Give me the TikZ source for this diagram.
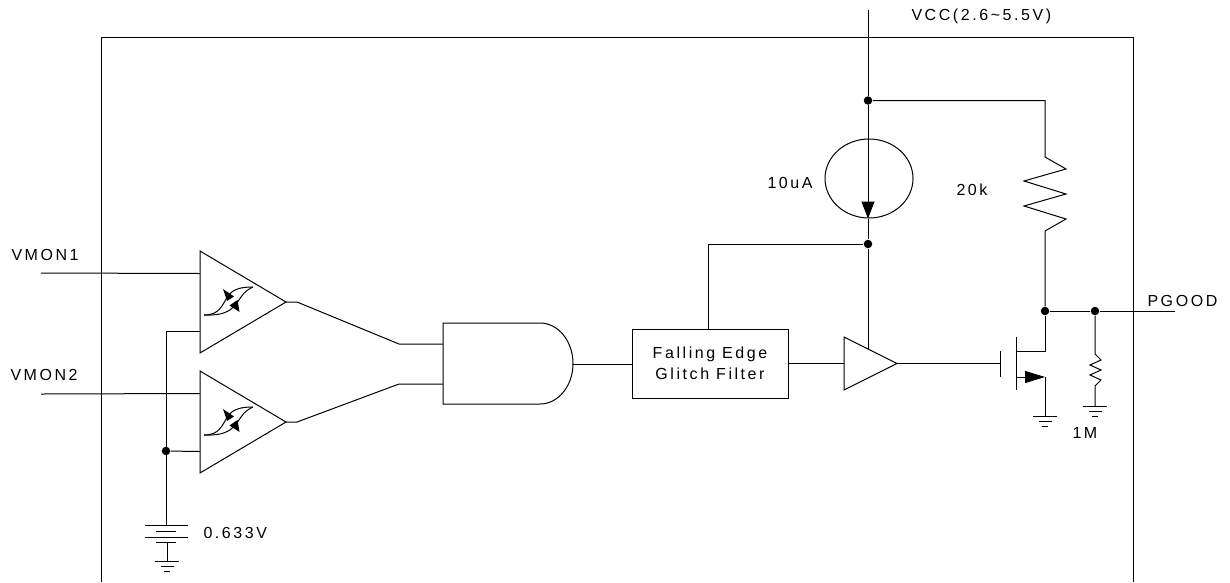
\documentclass[tikz,border=0pt]{standalone}
\usepackage{fontspec}
\setmainfont[LetterSpace=16]{Liberation Sans}
\usetikzlibrary{arrows.meta,shapes.geometric,positioning}
\tikzset{
  wire/.style = {line width=1pt},
  dot/.style = {circle, fill, inner sep=0pt, minimum size=8.5pt},
  lbl/.style = {anchor=west, inner sep=0pt, font=\fontsize{16}{21}\selectfont},
  comparator/.pic = {
    \draw[wire] (0,-51) -- (86,0) -- (0,51) -- cycle;
    \coordinate (-inp) at (0,-28.5);
    \coordinate (-ref) at (0,29.5);
    \coordinate (-out) at (86,0);
    \draw[wire] (4,13) .. controls (20,13) and (22,3) .. (28,-6) .. controls (33,-13) and (41,-15) .. (53,-15);
    \draw[wire] (4,13) .. controls (30,14) and (34,5) .. (41,-5) .. controls (45,-11) and (49,-13) .. (53,-15);
    \fill (23,-13) -- (34,-5.5) -- (27,-1) -- cycle;
    \fill (29.5,3.5) -- (37.5,-2) -- (39.5,10) -- cycle;
  },
  gndsym/.pic = {
    \draw[wire] (-12,0) -- (12,0);
    \draw[wire] (-6.5,5) -- (6.5,5);
    \draw[wire] (-3,10) -- (3,10);
  },
  cellsym/.pic = {
    \draw[wire] (-21.5,0) -- (21.5,0);
    \draw[wire] (-10,6) -- (10,6);
    \draw[wire] (-21.5,12) -- (21.5,12);
    \draw[wire] (-10,17) -- (10,17);
    \coordinate (-bot) at (0,17);
  }
}

\begin{document}
\begin{tikzpicture}[x=1pt, y=-1pt, on grid, wire]
\useasboundingbox (0,0) rectangle (1230,582);
\draw (101,582) -- (101,37) -- (1133,37) -- (1133,582);

\coordinate (vcctop) at (868,10);
\node[dot] (j1) at (868,100.5) {};
\node[dot, below=143.5pt of j1] (j2) {};
\node[dot] (j3) at (1045,311) {};
\node[dot, right=50pt of j3] (j4) {};
\node[dot] (j5) at (166,451) {};
\node[draw, ellipse, inner sep=0pt, minimum width=88pt, minimum height=79pt] (isrc) at (869,178.5) {};

\pic (cmp1) at (200,302) {comparator};
\pic (cmp2) at (200,422) {comparator};

\coordinate (vmon1) at (41,273);
\coordinate (vmon2) at (41,394);
\coordinate (batt) at (166,525);
\pic (cell) at (batt) {cellsym};
\coordinate (gnd1) at (167,561);
\pic at (gnd1) {gndsym};

\coordinate (and1) at (443,344);
\coordinate (and2) at (443,384);
\coordinate (andout) at (573,364);
\coordinate (bend1) at (399,344);
\coordinate (bend2) at (399,384);
\coordinate (stub1) at (297,302);
\coordinate (stub2) at (297,422);
\draw (443,323) -- (540,323) arc[start angle=90, end angle=-90, x radius=33pt, y radius=40.5pt] -- (443,404) -- cycle;

\node[draw, align=center, inner sep=0pt, minimum width=156pt, minimum height=69pt, font=\fontsize{16}{21}\selectfont] (filter) at (710,363.5) {Falling Edge\\Glitch Filter};

\coordinate (buf1) at (844,337);
\coordinate (buf2) at (844,390);
\coordinate (bufout) at (897,363.5);
\draw (buf1) -- (bufout) -- (buf2) -- cycle;
\coordinate (bufsup) at (868,349);
\coordinate (bufin) at (844,363.5);

\coordinate (gate) at (1000,363.5);
\coordinate (drain) at (1045,351);
\coordinate (source) at (1045,377);
\coordinate (gnd2) at (1045,416);
\pic at (gnd2) {gndsym};
\draw (1000,351) -- (1000,377);
\draw (1016,337) -- (1016,390);

\coordinate[right=177pt of j1] (rtop);
\coordinate (r20) at (1045,157);
\coordinate[below=43pt of j4] (r1m);
\coordinate (gnd3) at (1095,406);
\pic at (gnd3) {gndsym};
\coordinate (pgood) at (1175,311);

\draw (vcctop) -- (j1);
\draw[-{Triangle[length=17pt,width=13pt]}] (j1) -- (isrc.south -| j1);
\draw (isrc.south -| j1) -- (j2);
\draw (j2) -- (bufsup);
\draw (j2) -| (filter.north -| 708,0);
\draw (j1) -| (r20) -- ++(21,12) -- ++(-42,12) -- ++(42,13) -- ++(-42,12) -- ++(42,13) -- ++(-21,12) -- (j3);
\draw (j3) -- (j4);
\draw (j4) -- (pgood);
\draw (j3) -- (drain) -- (1016,351);
\draw[-{Triangle[length=20pt,width=12pt]}] (1016,377) -- (source);
\draw (source) -- (gnd2);
\draw (j4) -- (r1m) -- ++(6,6) -- ++(-11,5) -- ++(11,5) -- ++(-11,5) -- ++(11,5) -- ++(-6,6) -- (gnd3);
\draw (vmon1) -- (cmp1-inp);
\draw (vmon2) -- (cmp2-inp);
\draw (cmp1-ref) -| (batt);
\draw (j5) -- (cmp2-ref);
\draw (cell-bot -| gnd1) -- (gnd1);
\draw (cmp1-out) -- (stub1) -- (bend1) -- (and1);
\draw (cmp2-out) -- (stub2) -- (bend2) -- (and2);
\draw (andout) -- (filter.west |- andout);
\draw (filter.east |- bufin) -- (bufin);
\draw (bufout) -- (gate);

\node[lbl] (lvcc) at (911,16) {VCC(2.6\textasciitilde 5.5V)};
\node[lbl] (lvmon1) at (11,255) {VMON1};
\node[lbl] (lvmon2) at (10,375) {VMON2};
\node[lbl] (lref) at (203,533) {0.633V};
\node[lbl] (liref) at (767,183) {10uA};
\node[lbl] (lr20) at (956,190) {20k};
\node[lbl] (lr1m) at (1072,433) {1M};
\node[lbl] (lpgood) at (1147,301) {PGOOD};
\end{tikzpicture}
\end{document}
